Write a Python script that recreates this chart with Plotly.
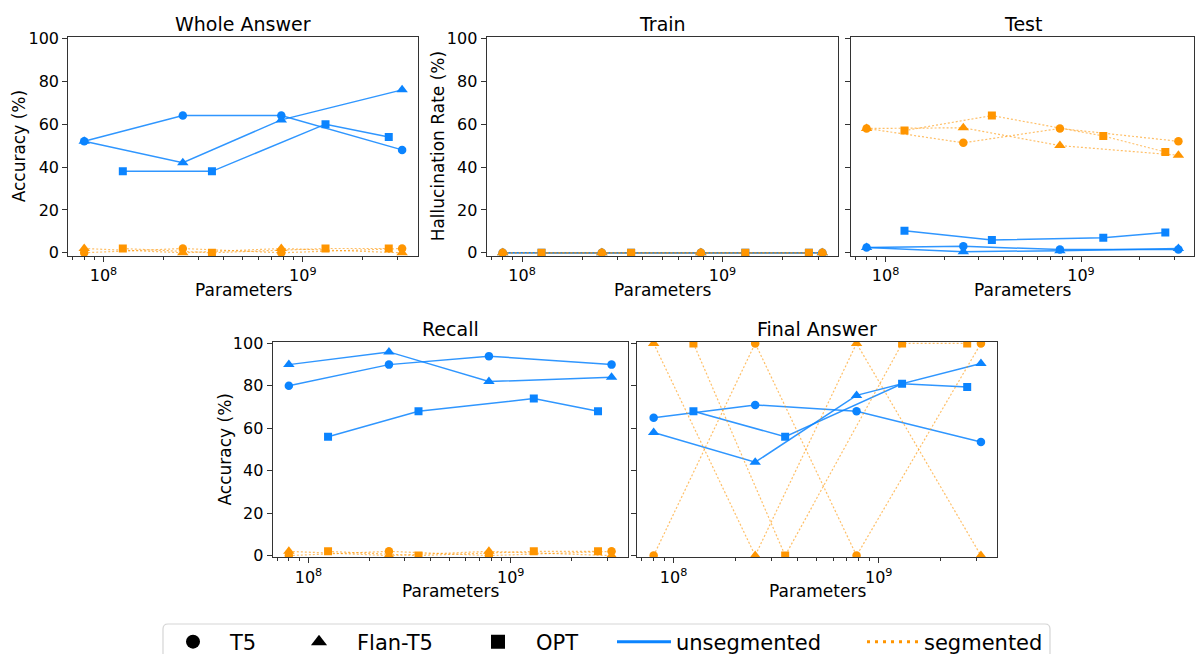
import numpy as np
import plotly.graph_objects as go

W, H = 1195, 654
BLUE = "#0b84ff"
ORANGE = "#ff9500"
BLUE_LINE = "rgba(11,132,255,0.85)"
ORANGE_LINE = "rgba(255,149,0,0.6)"
FONT = "DejaVu Sans"

# ---------------- data ----------------
models = ["T5", "Flan-T5", "OPT"]
t5_params = [80e6, 250e6, 780e6, 3.15e9]
flan_t5_params = [80e6, 250e6, 780e6, 3.15e9]
opt_params = [125e6, 350e6, 1.3e9, 2.7e9]

# Whole Answer accuracy (%)
whole_t5_unseg = [52, 64, 64, 48]
whole_flan_unseg = [52, 42, 62, 76]
whole_opt_unseg = [38, 38, 60, 54]
whole_t5_seg = [0, 2, 0, 2]
whole_flan_seg = [2, 0, 2, 0]
whole_opt_seg = [2, 0, 2, 2]

# Train hallucination rate (%)
train_t5_unseg = [0, 0, 0, 0]
train_flan_unseg = [0, 0, 0, 0]
train_opt_unseg = [0, 0, 0, 0]
train_t5_seg = [0, 0, 0, 0]
train_flan_seg = [0, 0, 0, 0]
train_opt_seg = [0, 0, 0, 0]

# Test hallucination rate (%)
test_t5_unseg = [2.5, 3, 1.5, 1.5]
test_flan_unseg = [2.5, 0.5, 1, 2]
test_opt_unseg = [10.3, 6, 7, 9.5]
test_t5_seg = [58, 51.3, 58, 52]
test_flan_seg = [58, 58.3, 50, 45.5]
test_opt_seg = [57, 64, 54.5, 47]

# Recall accuracy (%)
recall_t5_unseg = [80, 90, 94, 90]
recall_flan_unseg = [90, 96, 82, 84]
recall_opt_unseg = [56, 68, 74, 68]
recall_t5_seg = [0, 2, 0, 2]
recall_flan_seg = [2, 0, 2, 0]
recall_opt_seg = [2, 0, 2, 2]

# Final Answer accuracy (%)
final_t5_unseg = [65, 71, 68, 53.5]
final_flan_unseg = [58, 44, 75.5, 90.5]
final_opt_unseg = [68, 56, 81, 79.5]
final_t5_seg = [0, 100, 0, 100]
final_flan_seg = [100, 0, 100, 0]
final_opt_seg = [100, 0, 100, 100]

y_ticks = [0, 20, 40, 60, 80, 100]
x_ticks = [1e8, 1e9]
x_tick_labels = ["10<sup>8</sup>", "10<sup>9</sup>"]

# ---------------- layout geometry (pixels) ----------------
panels = [
    dict(title="Whole Answer", ylabel="Accuracy (%)", px=(68.3, 418), py=(36.7, 256), labels=True,
         ylab_x=19, yr=[-1.5, 100.8],
         data=[(whole_t5_unseg, whole_t5_seg), (whole_flan_unseg, whole_flan_seg), (whole_opt_unseg, whole_opt_seg)]),
    dict(title="Train", ylabel="Hallucination Rate (%)", px=(486.7, 838.3), py=(36.7, 256), labels=True,
         ylab_x=438, yr=[-1.5, 100.8],
         data=[(train_t5_unseg, train_t5_seg), (train_flan_unseg, train_flan_seg), (train_opt_unseg, train_opt_seg)]),
    dict(title="Test", ylabel=None, px=(851, 1194), py=(36.7, 256), labels=False,
         ylab_x=None, yr=[-1.5, 100.8],
         data=[(test_t5_unseg, test_t5_seg), (test_flan_unseg, test_flan_seg), (test_opt_unseg, test_opt_seg)]),
    dict(title="Recall", ylabel="Accuracy (%)", px=(272.7, 627.7), py=(341.7, 557.3), labels=True,
         ylab_x=225, yr=[-0.8, 100.8],
         data=[(recall_t5_unseg, recall_t5_seg), (recall_flan_unseg, recall_flan_seg), (recall_opt_unseg, recall_opt_seg)]),
    dict(title="Final Answer", ylabel=None, px=(637.3, 997.3), py=(341.7, 557.3), labels=False,
         ylab_x=None, yr=[-0.8, 100.8],
         data=[(final_t5_unseg, final_t5_seg), (final_flan_unseg, final_flan_seg), (final_opt_unseg, final_opt_seg)]),
]

params = [t5_params, flan_t5_params, opt_params]
symbols = ["circle", "triangle-up", "square"]
msizes = [8.5, 10, 8]

all_x = np.log10(np.concatenate([t5_params, flan_t5_params, opt_params]))
span = all_x.max() - all_x.min()
x_range = [all_x.min() - 0.05 * span, all_x.max() + 0.05 * span]

minor_vals = [m * 10.0 ** e for e in (7, 8, 9) for m in range(2, 10)]

fig = go.Figure()
annotations = []

for i, p in enumerate(panels):
    n = "" if i == 0 else str(i + 1)
    xa, ya = "x" + n, "y" + n
    xd = [p["px"][0] / W, p["px"][1] / W]
    yd = [1 - p["py"][1] / H, 1 - p["py"][0] / H]
    # unsegmented first, then segmented
    for k in range(3):
        unseg, seg = p["data"][k]
        fig.add_trace(go.Scatter(x=params[k], y=unseg, xaxis=xa, yaxis=ya, mode="lines+markers",
                                 line=dict(color=BLUE_LINE, width=1.5),
                                 marker=dict(symbol=symbols[k], size=msizes[k], color=BLUE),
                                 showlegend=False, name=models[k] + " unsegmented"))
    for k in range(3):
        unseg, seg = p["data"][k]
        fig.add_trace(go.Scatter(x=params[k], y=seg, xaxis=xa, yaxis=ya, mode="lines+markers",
                                 line=dict(color=ORANGE_LINE, width=1.2, dash="2px,2px"),
                                 marker=dict(symbol=symbols[k], size=msizes[k], color=ORANGE),
                                 showlegend=False, name=models[k] + " segmented"))
    axis_common = dict(showline=True, mirror=True, linecolor="#333", linewidth=1.2, showgrid=False,
                       zeroline=False, ticks="outside", ticklen=5, tickwidth=1, tickcolor="#333",
                       automargin=False,
                       tickfont=dict(family=FONT, size=16, color="black"))
    fig.layout["xaxis" + n] = dict(domain=xd, anchor=ya, type="log", range=x_range,
                                   tickvals=x_ticks, ticktext=x_tick_labels,
                                   minor=dict(ticks="outside", ticklen=3, tickvals=minor_vals, tickcolor="#333"),
                                   **axis_common)
    fig.layout["yaxis" + n] = dict(domain=yd, anchor=xa, range=p["yr"], tickvals=y_ticks,
                                   showticklabels=p["labels"], **axis_common)
    cx = (xd[0] + xd[1]) / 2
    annotations.append(dict(text=p["title"], x=cx, y=1 - (p["py"][0] - 13) / H, xref="paper", yref="paper",
                            showarrow=False, xanchor="center", yanchor="middle",
                            font=dict(family=FONT, size=19, color="black")))
    annotations.append(dict(text="Parameters", x=cx, y=1 - (p["py"][1] + 34) / H, xref="paper", yref="paper",
                            showarrow=False, xanchor="center", yanchor="middle",
                            font=dict(family=FONT, size=17, color="black")))
    if p["ylabel"]:
        annotations.append(dict(text=p["ylabel"], x=p["ylab_x"] / W, y=(yd[0] + yd[1]) / 2, xref="paper",
                                yref="paper", showarrow=False, textangle=-90, xanchor="center",
                                yanchor="middle", font=dict(family=FONT, size=17, color="black")))

# ---------------- legend (one entry per legend for precise placement) ----------------
leg_y = 1 - 642 / H
legend_items = [
    dict(name="T5", kind="marker", symbol="circle", lx=156, w=64),
    dict(name="Flan-T5", kind="marker", symbol="triangle-up", lx=281, w=66),
    dict(name="OPT", kind="marker", symbol="square", lx=460, w=66),
    dict(name="unsegmented", kind="line", color=BLUE, dash="solid", lx=612, w=54),
    dict(name="segmented", kind="line", color=ORANGE, dash="3px,5px", lx=862, w=52),
]
for j, it in enumerate(legend_items):
    lname = "legend" if j == 0 else "legend" + str(j + 1)
    if it["kind"] == "marker":
        tr = go.Scatter(x=[None], y=[None], mode="markers", name=it["name"],
                        marker=dict(symbol=it["symbol"], size=14, color="black"),
                        legend=lname, showlegend=True)
    else:
        tr = go.Scatter(x=[None], y=[None], mode="lines", name=it["name"],
                        line=dict(color=it["color"], width=3, dash=it["dash"]),
                        legend=lname, showlegend=True)
    fig.add_trace(tr)
    fig.layout[lname] = dict(x=it["lx"] / W, y=leg_y, xanchor="left", yanchor="middle",
                             orientation="h", itemwidth=it["w"], bgcolor="rgba(0,0,0,0)",
                             borderwidth=0, font=dict(family=FONT, size=21, color="black"))

# legend frame (rounded top corners, bottom cut by the figure edge)
x0, x1 = 163 / W, 1050 / W
yt, yb = 1 - 624 / H, -0.05
rx, ry = 5 / W, 5 / H
frame = (f"M {x0},{yb} L {x0},{yt - ry} Q {x0},{yt} {x0 + rx},{yt} "
         f"L {x1 - rx},{yt} Q {x1},{yt} {x1},{yt - ry} L {x1},{yb}")
fig.add_shape(type="path", path=frame, xref="paper", yref="paper",
              line=dict(color="#d5d5d5", width=1.2))

fig.update_layout(width=W, height=H, margin=dict(l=0, r=0, t=0, b=0, autoexpand=False),
                  plot_bgcolor="white", paper_bgcolor="white",
                  annotations=annotations, font=dict(family=FONT))

fig.write_html("out.html", config={"displayModeBar": False},
               post_script="document.body.style.margin='0';document.body.style.overflow='hidden';")
